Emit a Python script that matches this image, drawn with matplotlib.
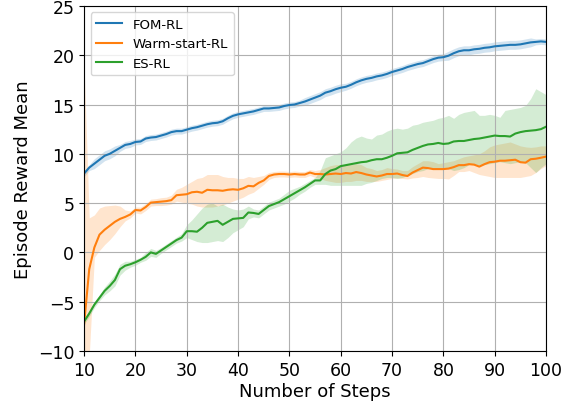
import numpy as np
import matplotlib
matplotlib.use('Agg')
import matplotlib.pyplot as plt

# steps 10..100
steps = list(range(10, 101))

fom_mean = [8.0, 8.6, 9.0, 9.4, 9.8, 10.0, 10.3, 10.6, 10.9, 11.0,
            11.2, 11.25, 11.55, 11.65, 11.7, 11.85, 12.0, 12.2, 12.3, 12.3,
            12.45, 12.6, 12.7, 12.85, 13.0, 13.1, 13.15, 13.3, 13.6, 13.85,
            14.0, 14.1, 14.2, 14.3, 14.45, 14.6, 14.6, 14.65, 14.7, 14.85,
            14.95, 15.0, 15.15, 15.3, 15.5, 15.7, 15.9, 16.2, 16.35, 16.55,
            16.7, 16.8, 17.0, 17.25, 17.45, 17.6, 17.7, 17.85, 17.95, 18.1,
            18.3, 18.45, 18.6, 18.8, 18.95, 19.1, 19.2, 19.4, 19.6, 19.75,
            19.8, 19.95, 20.2, 20.4, 20.5, 20.5, 20.6, 20.65, 20.75, 20.8,
            20.9, 20.95, 21.0, 21.05, 21.05, 21.1, 21.2, 21.3, 21.35, 21.4,
            21.35]
fom_err = [0.3, 0.3, 0.5, 0.5, 0.5, 0.5, 0.5, 0.35, 0.35, 0.35,
           0.3, 0.3, 0.3, 0.3, 0.3, 0.3, 0.3, 0.3, 0.3, 0.3,
           0.3, 0.3, 0.3, 0.3, 0.3, 0.3, 0.3, 0.3, 0.3, 0.3,
           0.3, 0.3, 0.3, 0.3, 0.3, 0.3, 0.3, 0.3, 0.3, 0.3,
           0.3, 0.3, 0.3, 0.4, 0.4, 0.4, 0.4, 0.4, 0.4, 0.4,
           0.4, 0.35, 0.35, 0.35, 0.35, 0.35, 0.35, 0.35, 0.35, 0.35,
           0.35, 0.35, 0.35, 0.35, 0.35, 0.35, 0.35, 0.35, 0.35, 0.35,
           0.35, 0.45, 0.45, 0.45, 0.45, 0.45, 0.45, 0.45, 0.45, 0.45,
           0.45, 0.45, 0.45, 0.45, 0.45, 0.45, 0.45, 0.45, 0.3, 0.3,
           0.3]

warm_mean = [-7.3, -1.7, 0.5, 1.8, 2.3, 2.7, 3.1, 3.4, 3.6, 3.85,
             4.3, 4.25, 4.6, 5.05, 5.1, 5.15, 5.2, 5.3, 5.8, 5.85,
             5.9, 6.1, 6.15, 6.05, 6.35, 6.3, 6.3, 6.25, 6.35, 6.4,
             6.35, 6.5, 6.75, 6.7, 7.05, 7.3, 7.75, 7.9, 7.95, 7.95,
             7.9, 7.95, 7.9, 7.9, 8.1, 7.95, 7.95, 7.9, 7.95, 8.0,
             7.95, 8.05, 8.0, 8.15, 8.05, 7.9, 7.8, 7.7, 7.8, 7.95,
             7.95, 8.0, 7.85, 7.75, 8.1, 8.35, 8.6, 8.55, 8.45, 8.45,
             8.45, 8.5, 8.65, 8.85, 8.85, 8.95, 8.9, 8.7, 8.95, 9.15,
             9.2, 9.3, 9.3, 9.35, 9.4, 9.15, 9.1, 9.45, 9.5, 9.6,
             9.72]
warm_lo = [-13.0, -10.5, -0.5, 0.2, 0.8, 1.3, 1.9, 2.6, 3.2, 3.5,
           4.0, 3.9, 4.25, 4.7, 4.75, 4.75, 4.8, 4.9, 5.2, 5.1,
           5.0, 4.9, 4.7, 4.6, 4.6, 4.6, 4.7, 4.8, 5.0, 5.2,
           5.4, 5.6, 5.9, 6.1, 6.5, 6.9, 7.4, 7.6, 7.65, 7.65,
           7.6, 7.65, 7.6, 7.6, 7.8, 7.6, 7.5, 7.3, 7.2, 7.1,
           7.1, 7.2, 7.2, 7.3, 7.3, 7.2, 7.2, 7.2, 7.3, 7.4,
           7.5, 7.55, 7.5, 7.45, 7.55, 7.6, 7.7, 7.6, 7.55, 7.5,
           7.5, 7.45, 7.8, 8.2, 8.2, 8.3, 8.1, 7.9, 7.8, 7.7,
           7.6, 7.6, 7.6, 7.6, 7.6, 7.6, 7.7, 7.8, 8.1, 8.5,
           8.8]
warm_hi = [19.0, 3.5, 3.8, 4.5, 4.7, 4.75, 4.8, 4.7, 4.3, 4.2,
           4.6, 4.6, 4.95, 5.4, 5.45, 5.55, 5.6, 5.8, 6.4, 6.6,
           6.9, 7.2, 7.5, 7.6, 7.9, 7.9, 7.9, 7.7, 7.6, 7.6,
           7.5, 7.5, 7.7, 7.6, 7.7, 7.8, 8.1, 8.2, 8.25, 8.25,
           8.2, 8.25, 8.2, 8.2, 8.4, 8.3, 8.4, 8.6, 8.8, 8.9,
           8.9, 8.9, 8.9, 9.0, 8.9, 8.6, 8.5, 8.3, 8.4, 8.6,
           8.5, 8.45, 8.3, 8.3, 8.7, 9.0, 9.3, 9.3, 9.2, 9.0,
           9.1, 9.2, 9.3, 9.5, 9.7, 9.8, 9.9, 10.0, 10.3, 10.7,
           10.9, 11.0, 11.1, 11.2, 11.0, 10.8, 10.7, 10.65, 10.7, 10.8,
           10.8]

es_mean = [-7.0, -6.2, -5.3, -4.6, -3.9, -3.4, -2.8, -1.7, -1.35, -1.2,
           -1.0, -0.75, -0.45, 0.0, -0.15, 0.2, 0.55, 0.9, 1.25, 1.5,
           2.15, 2.15, 2.1, 2.5, 3.0, 3.1, 3.2, 2.8, 3.1, 3.4,
           3.45, 3.5, 4.05, 4.0, 3.9, 4.3, 4.7, 4.9, 5.1, 5.4,
           5.7, 6.0, 6.3, 6.6, 6.95, 7.3, 7.3, 7.95, 8.3, 8.45,
           8.75, 8.85, 8.95, 9.05, 9.15, 9.2, 9.35, 9.45, 9.45, 9.6,
           9.8, 10.05, 10.1, 10.15, 10.4, 10.6, 10.8, 10.95, 11.0, 11.1,
           11.0, 11.05, 11.25, 11.3, 11.3, 11.4, 11.5, 11.55, 11.65, 11.75,
           11.85, 11.8, 11.8, 11.75, 12.05, 12.2, 12.3, 12.35, 12.4, 12.5,
           12.75]
es_lo = [-7.3, -6.5, -5.6, -4.9, -4.3, -3.9, -3.4, -2.3, -1.8, -1.5,
         -1.3, -1.0, -0.8, -0.4, -0.5, -0.1, 0.25, 0.6, 0.95, 1.15,
         1.5, 1.3, 1.1, 1.0, 1.0, 1.1, 1.2, 1.1, 1.5, 2.0,
         2.3, 2.6, 3.4, 3.6, 3.5, 3.9, 4.3, 4.5, 4.7, 4.9,
         5.2, 5.5, 5.9, 6.2, 6.6, 6.9, 6.9, 6.9, 6.8, 6.8,
         6.8, 6.8, 6.8, 6.8, 6.8, 7.0, 7.1, 7.3, 7.5, 7.6,
         7.6, 7.5, 7.6, 7.8, 8.0, 8.2, 8.3, 8.5, 8.6, 8.6,
         8.6, 8.5, 8.3, 8.4, 8.6, 8.9, 9.0, 8.8, 8.9, 9.0,
         9.1, 9.2, 9.1, 9.0, 9.1, 9.2, 9.1, 8.6, 8.1, 8.6,
         9.0]
es_hi = [-6.7, -5.9, -5.0, -4.3, -3.5, -2.9, -2.2, -1.2, -0.9, -0.9,
         -0.7, -0.5, 0.0, 0.4, 0.2, 0.5, 0.85, 1.2, 1.55, 1.9,
         2.8, 3.3, 3.9, 4.5, 4.9, 5.0, 4.7, 4.9, 4.6, 4.4,
         4.3, 4.4, 4.7, 4.4, 4.3, 4.7, 5.1, 5.3, 5.5, 5.9,
         6.3, 6.5, 6.7, 7.0, 7.3, 7.6, 8.3, 9.6, 9.8, 10.0,
         10.2, 10.6, 11.2, 11.6, 11.8, 11.6, 11.5, 11.9, 12.0, 12.3,
         12.5, 12.6, 12.5, 12.6, 12.9, 13.0, 13.2, 13.3, 13.4, 13.6,
         13.7, 13.9, 13.6, 14.0, 14.2, 14.3, 14.4, 13.9, 13.9, 14.0,
         13.9, 13.7, 14.4, 14.5, 14.6, 14.7, 14.9, 15.6, 16.6, 16.3,
         16.0]

x = np.array(steps)

fig = plt.figure(figsize=(5.76, 4.06), dpi=100)
ax = fig.add_axes([0.146, 0.133, 0.802, 0.850])

fom = np.array(fom_mean)
err = np.array(fom_err)
ax.plot(x, fom, color='C0', linewidth=1.5, label='FOM-RL')
ax.fill_between(x, fom - err, fom + err, color='C0', alpha=0.2, linewidth=0)

ax.plot(x, warm_mean, color='C1', linewidth=1.5, label='Warm-start-RL')
ax.fill_between(x, warm_lo, warm_hi, color='C1', alpha=0.2, linewidth=0)

ax.plot(x, es_mean, color='C2', linewidth=1.5, label='ES-RL')
ax.fill_between(x, es_lo, es_hi, color='C2', alpha=0.2, linewidth=0)

ax.set_xlim(10, 100)
ax.set_ylim(-10, 25)
ax.set_xticks(np.arange(10, 101, 10))
ax.set_yticks(np.arange(-10, 26, 5))
ax.tick_params(labelsize=12.5)
ax.set_xlabel('Number of Steps', fontsize=13, labelpad=2)
ax.set_ylabel('Episode Reward Mean', fontsize=13)
ax.grid(True)
ax.legend(loc='upper left', fontsize=9.5)

fig.savefig('out.png', dpi=100)
